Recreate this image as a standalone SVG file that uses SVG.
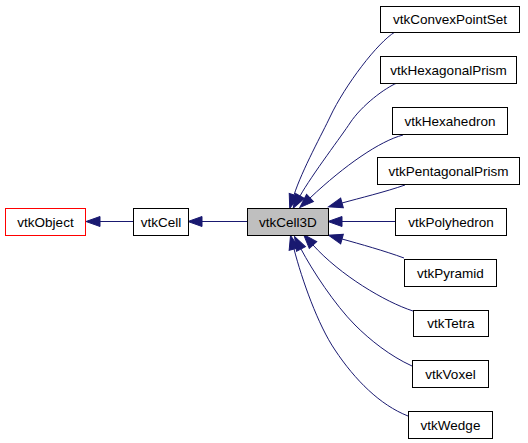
<svg xmlns="http://www.w3.org/2000/svg" width="528" height="443" viewBox="0 0 528 443">
<style>
.node rect{fill:#fff;stroke:#000;stroke-width:1}
.node text{font-family:"Liberation Sans",Arial,sans-serif;font-size:13.5px;fill:#000;text-anchor:middle}
#vtkObject rect{stroke:#ff0000}
#vtkCell3D rect{fill:#bfbfbf}
.edges path{fill:none;stroke:#191970;stroke-width:1;marker-end:url(#arr)}
</style>
<defs>
<marker id="arr" markerUnits="userSpaceOnUse" markerWidth="15" markerHeight="11" refX="0" refY="5" orient="auto" overflow="visible">
<path d="M0,0 L14,5 L0,10 z" fill="#191970" stroke="#191970" stroke-width="1"/>
</marker>
</defs>
<rect width="528" height="443" fill="#fff"/>
<g class="edges">
<path d="M133,221.5 L100,221.5"/>
<path d="M247,221.5 L202,221.5"/>
<path d="M395,32 C378,42 345,85 330,117 C323,132 302,170 294,195"/>
<path d="M397,83 C385,88 362,105 350,123 C343,134 311.75,175 300,196"/>
<path d="M403,135 C380,141 345,165 310,198"/>
<path d="M405,185 C385,192 360,198 342,203"/>
<path d="M395,221.5 L342,221.5"/>
<path d="M404,258 C385,251 360,244 342,239"/>
<path d="M413,311 C385,302 340,275 313,245"/>
<path d="M412,366 C390,356 370,340 355,325 C335,305 312,270 301,249"/>
<path d="M408,416 C380,405 355,380 335,350 C318,325 302,280 294,249"/>
</g>
<g id="vtkObject" class="node"><rect x="5.5" y="208.5" width="80" height="27"/><text x="45.5" y="226.5">vtkObject</text></g>
<g id="vtkCell" class="node"><rect x="133.5" y="208.5" width="55" height="27"/><text x="161" y="226.5">vtkCell</text></g>
<g id="vtkCell3D" class="node"><rect x="247.5" y="208.5" width="81" height="27"/><text x="288" y="226.5">vtkCell3D</text></g>
<g id="vtkConvexPointSet" class="node"><rect x="380.5" y="6.5" width="139" height="26"/><text x="450" y="24">vtkConvexPointSet</text></g>
<g id="vtkHexagonalPrism" class="node"><rect x="380.5" y="56.5" width="136" height="27"/><text x="448.5" y="74.5">vtkHexagonalPrism</text></g>
<g id="vtkHexahedron" class="node"><rect x="392.5" y="107.5" width="115" height="27"/><text x="450" y="125.5">vtkHexahedron</text></g>
<g id="vtkPentagonalPrism" class="node"><rect x="377.5" y="157.5" width="142" height="27"/><text x="448.5" y="175.5">vtkPentagonalPrism</text></g>
<g id="vtkPolyhedron" class="node"><rect x="395.5" y="208.5" width="111" height="27"/><text x="451" y="226.5">vtkPolyhedron</text></g>
<g id="vtkPyramid" class="node"><rect x="404.5" y="259.5" width="92" height="27"/><text x="450.5" y="277.5">vtkPyramid</text></g>
<g id="vtkTetra" class="node"><rect x="413.5" y="310.5" width="75" height="26"/><text x="451" y="328">vtkTetra</text></g>
<g id="vtkVoxel" class="node"><rect x="412.5" y="360.5" width="76" height="27"/><text x="450.5" y="378.5">vtkVoxel</text></g>
<g id="vtkWedge" class="node"><rect x="408.5" y="411.5" width="84" height="27"/><text x="450.5" y="429.5">vtkWedge</text></g>
</svg>
